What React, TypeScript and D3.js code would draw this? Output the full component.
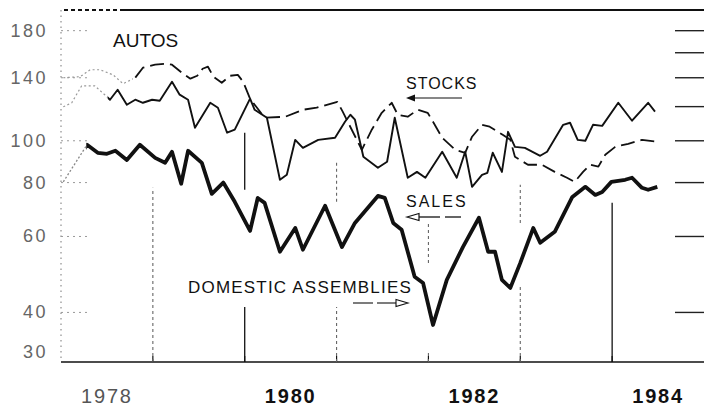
import React from 'react';
import * as d3 from 'd3';

const W = 704;
const H = 408;

// Left tick labels, right-side tick marks, year labels
const leftTicks = [180, 140, 100, 80, 60, 40, 30];
const rightTicks = [180, 160, 140, 120, 100, 80, 60, 40];
const yearLabels = [1978, 1980, 1982, 1984];
const yearBoundaries = [1979, 1980, 1981, 1982, 1983, 1984];

// Months since Jan 1978 (vertex positions) and index values
const assemblyMonth = [0.3, 3.4, 4.8, 6.0, 7.1, 8.6, 10.3, 12.3, 13.6, 14.5, 15.7, 16.6, 18.4, 19.7, 21.2, 22.7, 24.7, 25.7, 26.6, 28.6, 30.6, 31.6, 34.5, 36.7, 38.4, 41.4, 42.3, 43.4, 44.5, 46.2, 47.3, 48.6, 50.4, 52.5, 54.6, 55.8, 56.7, 57.6, 58.7, 60.0, 61.7, 62.6, 64.5, 66.8, 68.5, 69.8, 70.7, 71.9, 73.7, 74.6, 75.9, 76.7, 77.9];
const assemblyValue = [80.3, 97.9, 93.8, 93.3, 94.8, 90.3, 97.9, 91.3, 88.9, 94.3, 79.5, 94.8, 88.9, 75.3, 80.0, 72.2, 61.8, 73.7, 71.8, 55.3, 62.8, 55.9, 70.7, 56.7, 64.5, 74.5, 73.7, 64.5, 62.2, 48.4, 46.8, 37.4, 47.6, 56.7, 66.3, 55.3, 55.3, 47.6, 45.6, 52.1, 62.8, 58.0, 61.5, 74.1, 78.2, 74.9, 76.1, 80.3, 81.2, 82.1, 77.8, 77.0, 78.2];

const salesMonth = [0.3, 1.4, 2.7, 4.4, 5.7, 6.4, 7.4, 8.6, 9.7, 10.7, 11.9, 12.9, 14.5, 15.5, 16.6, 17.5, 19.5, 20.5, 21.7, 22.7, 24.7, 25.3, 26.9, 28.6, 29.5, 30.6, 31.6, 33.6, 35.8, 37.1, 37.8, 38.4, 39.5, 41.4, 42.6, 43.6, 45.3, 46.5, 47.6, 49.8, 51.7, 52.8, 53.7, 55.0, 55.7, 56.4, 57.6, 58.4, 59.3, 60.6, 62.6, 63.5, 65.6, 66.5, 67.5, 68.5, 69.5, 70.7, 72.8, 74.6, 76.7, 77.6];
const salesValue = [119.9, 122.5, 134.1, 134.1, 127.9, 124.5, 131.3, 121.2, 124.5, 122.5, 124.5, 123.8, 137.0, 127.9, 124.5, 107.2, 122.5, 119.3, 104.4, 106.1, 125.2, 118.0, 113.1, 81.2, 83.4, 100.5, 96.3, 100.5, 101.6, 110.7, 114.9, 111.9, 91.8, 86.6, 89.4, 113.1, 82.1, 84.7, 82.1, 94.3, 82.1, 94.3, 78.2, 83.4, 84.3, 93.8, 84.7, 104.9, 96.8, 96.3, 92.3, 94.3, 108.9, 110.1, 100.5, 100.0, 108.9, 108.3, 122.5, 111.3, 122.5, 116.8];

const stocksMonth = [0.3, 2.5, 3.8, 5.1, 6.8, 8.1, 9.7, 10.7, 12.3, 13.6, 14.5, 15.8, 16.9, 17.8, 18.5, 19.2, 19.9, 21.0, 22.1, 23.1, 23.8, 24.7, 26.6, 29.3, 31.6, 33.4, 36.1, 36.8, 39.3, 40.6, 41.9, 43.2, 44.0, 45.3, 46.6, 47.9, 48.6, 49.8, 51.5, 52.8, 53.7, 55.0, 56.0, 57.7, 58.7, 59.3, 61.0, 62.8, 64.5, 66.1, 67.1, 68.2, 69.1, 70.2, 71.1, 72.4, 74.1, 75.9, 77.9];
const stocksValue = [140.0, 140.8, 146.1, 146.1, 142.2, 135.6, 140.0, 147.7, 150.1, 150.9, 150.1, 143.8, 139.3, 141.5, 146.9, 148.5, 140.8, 136.3, 141.5, 142.2, 137.0, 125.2, 113.1, 113.7, 118.0, 119.3, 123.1, 116.8, 95.3, 106.1, 116.1, 122.5, 114.9, 113.7, 118.0, 116.1, 110.7, 101.6, 95.3, 93.8, 102.2, 108.9, 107.8, 103.3, 100.5, 91.8, 88.0, 88.0, 84.7, 82.1, 80.3, 84.7, 88.0, 87.1, 92.8, 96.8, 98.4, 100.5, 99.5];

// Visible pieces of the year grid lines: [year, fromValue, toValue, solid]
const gridYear = [1979, 1980, 1980, 1981, 1981, 1982, 1982, 1983, 1983, 1984];
const gridFrom = [30.7, 77.0, 30.7, 72.2, 30.7, 52.1, 30.7, 64.5, 30.7, 30.7];
const gridTo = [77.8, 104.4, 41.2, 89.4, 41.2, 64.9, 32.4, 79.1, 46.3, 71.8];
const gridSolid = [false, true, true, false, false, false, false, false, false, true];

// months before which the scanned lines look faded
const salesFadeMonth = 6.1;
const stocksFadeMonth = 9.4;
const assemblyFadeMonth = 3.3;

const FONT = '"Liberation Sans", Arial, Helvetica, sans-serif';

export default function App() {
  const left = 61, right = 704, top = 10, bottom = 362;
  const x = d3.scaleLinear().domain([1978, 1985]).range([left, right]);
  const y = d3.scaleLog().domain([30.7, 201]).range([bottom, top]);
  const mx = (m: number) => x(1978 + m / 12);

  const line = d3.line<[number, number]>().x(d => mx(d[0])).y(d => y(d[1]));
  const zip = (a: number[], b: number[]) => a.map((m, i) => [m, b[i]] as [number, number]);
  const assemblyPath = line(zip(assemblyMonth, assemblyValue)) || '';
  const salesPath = line(zip(salesMonth, salesValue)) || '';
  const stocksPath = line(zip(stocksMonth, stocksValue)) || '';

  const ink = '#111';

  return (
    <svg width={W} height={H} style={{ position: 'absolute', left: 0, top: 0, background: '#fff' }} fontFamily={FONT}>
      <defs>
        <clipPath id="fadeS"><rect x={0} y={0} width={mx(salesFadeMonth)} height={H} /></clipPath>
        <clipPath id="solidS"><rect x={mx(salesFadeMonth)} y={0} width={W} height={H} /></clipPath>
        <clipPath id="fadeK"><rect x={0} y={0} width={mx(stocksFadeMonth)} height={H} /></clipPath>
        <clipPath id="solidK"><rect x={mx(stocksFadeMonth)} y={0} width={W} height={H} /></clipPath>
        <clipPath id="fadeA"><rect x={0} y={0} width={mx(assemblyFadeMonth)} height={H} /></clipPath>
        <clipPath id="solidA"><rect x={mx(assemblyFadeMonth)} y={0} width={W} height={H} /></clipPath>
      </defs>

      {/* frame */}
      <line x1={left} x2={right} y1={top} y2={top} stroke={ink} strokeWidth={2} />
      <line x1={left} x2={left + 60} y1={top} y2={top} stroke="#fff" strokeWidth={2.2} strokeDasharray="3,4" />
      <line x1={left} x2={right} y1={bottom} y2={bottom} stroke={ink} strokeWidth={1.6} />
      <line x1={left} x2={left} y1={top} y2={bottom} stroke="#777" strokeWidth={1} strokeDasharray="1.5,4" />

      {/* left tick stubs */}
      {leftTicks.filter(v => v > 31).map(v => (
        <line key={'lt' + v} x1={left} x2={left + 28} y1={y(v)} y2={y(v)} stroke="#999" strokeWidth={1} strokeDasharray="2,4" />
      ))}

      {/* right tick marks */}
      {rightTicks.map(v => (
        <line key={'rt' + v} x1={675} x2={right} y1={y(v)} y2={y(v)} stroke="#222" strokeWidth={1.4} />
      ))}

      {/* year boundary ticks on the axis */}
      {yearBoundaries.map(yr => (
        <line key={'yb' + yr} x1={x(yr)} x2={x(yr)} y1={bottom} y2={bottom - 6} stroke={ink} strokeWidth={1.2} />
      ))}

      {/* grid line pieces */}
      {gridYear.map((yr, i) => (
        <line key={'g' + i} x1={x(yr)} x2={x(yr)} y1={y(gridFrom[i])} y2={y(gridTo[i])}
          stroke={gridSolid[i] ? '#111' : '#666'} strokeWidth={gridSolid[i] ? 1.3 : 1.1}
          strokeDasharray={gridSolid[i] ? undefined : '3,3'} />
      ))}

      {/* stocks */}
      <path d={stocksPath} fill="none" stroke="#999" strokeWidth={1.2} strokeDasharray="2,2.5" clipPath="url(#fadeK)" />
      <path d={stocksPath} fill="none" stroke={ink} strokeWidth={1.8} strokeDasharray="14,6" clipPath="url(#solidK)" strokeLinejoin="round" />

      {/* sales */}
      <path d={salesPath} fill="none" stroke="#999" strokeWidth={1.2} strokeDasharray="2,2.5" clipPath="url(#fadeS)" />
      <path d={salesPath} fill="none" stroke={ink} strokeWidth={1.9} clipPath="url(#solidS)" strokeLinejoin="round" />

      {/* domestic assemblies */}
      <path d={assemblyPath} fill="none" stroke="#888" strokeWidth={1.3} strokeDasharray="2,2" clipPath="url(#fadeA)" />
      <path d={assemblyPath} fill="none" stroke={ink} strokeWidth={3.8} clipPath="url(#solidA)" strokeLinejoin="round" />

      {/* left labels */}
      {leftTicks.map(v => (
        <text key={'ll' + v} x={48} y={Math.min(y(v), bottom - 10)} textAnchor="end" dominantBaseline="central"
          fontSize={18} letterSpacing={2.5} fill="#666">{v}</text>
      ))}

      {/* year labels */}
      {yearLabels.map((yr, i) => (
        <text key={'yl' + yr} x={x(yr + 0.5)} y={403} textAnchor="middle" fontSize={20} letterSpacing={1.8}
          fontWeight={i === 0 ? 'normal' : 'bold'} fill={i === 0 ? '#555' : ink}>{yr}</text>
      ))}

      {/* annotations */}
      <text x={113} y={47} fontSize={19} fill={ink}>AUTOS</text>

      <text x={406} y={89} fontSize={16} letterSpacing={1} fill={ink}>STOCKS</text>
      <line x1={412} x2={462} y1={98} y2={98} stroke={ink} strokeWidth={1.2} />
      <path d="M406,98 L415,94.5 L415,101.5 Z" fill={ink} />

      <text x={406} y={207} fontSize={16} letterSpacing={2} fill={ink}>SALES</text>
      <line x1={418} x2={440} y1={217} y2={217} stroke={ink} strokeWidth={1.3} />
      <line x1={445} x2={461} y1={217} y2={217} stroke={ink} strokeWidth={1.3} />
      <path d="M407,217 L419,213.5 L419,220.5 Z" fill="#fff" stroke={ink} strokeWidth={1.2} />

      <text x={188} y={293} fontSize={17} letterSpacing={1.2} fill={ink}>DOMESTIC ASSEMBLIES</text>
      <line x1={353} x2={373} y1={303} y2={303} stroke={ink} strokeWidth={1.1} />
      <line x1={377} x2={396} y1={303} y2={303} stroke={ink} strokeWidth={1.1} />
      <path d="M408,303 L396,299.5 L396,306.5 Z" fill="#fff" stroke={ink} strokeWidth={1.1} />
    </svg>
  );
}
